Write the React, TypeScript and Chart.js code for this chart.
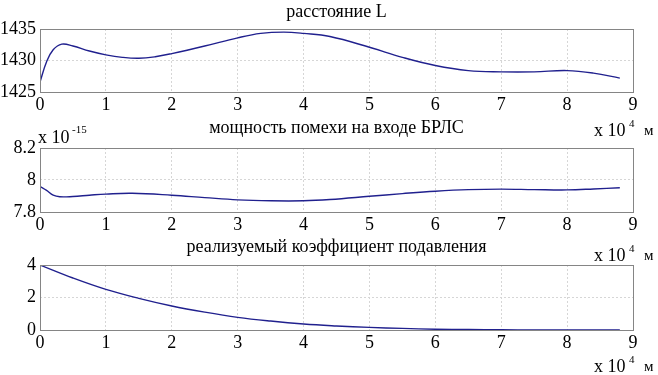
import React, { useEffect, useRef } from "react";
import { Chart, registerables } from "chart.js";

Chart.register(...registerables);

// x values in units of 10^4 m
const xDist = [0, 0.1, 0.2, 0.33, 0.5, 0.75, 1.0, 1.25, 1.5, 1.75, 2.0, 2.5, 3.0, 3.35, 3.7, 4.0, 4.4, 5.0, 5.5, 6.0, 6.5, 7.0, 7.5, 8.0, 8.4, 8.8];
const distL = [1426.6, 1429.8, 1431.7, 1432.6, 1432.3, 1431.5, 1430.9, 1430.5, 1430.35, 1430.6, 1431.1, 1432.3, 1433.6, 1434.3, 1434.5, 1434.3, 1433.8, 1432.1, 1430.5, 1429.2, 1428.4, 1428.2, 1428.2, 1428.4, 1428.0, 1427.2];

const xPow = [0, 0.1, 0.2, 0.3, 0.5, 0.75, 1.0, 1.4, 2.0, 2.5, 3.0, 3.5, 4.0, 4.4, 5.0, 5.5, 6.0, 6.5, 7.0, 7.5, 8.0, 8.4, 8.8];
const powerNoise = [7.96, 7.935, 7.905, 7.895, 7.897, 7.905, 7.912, 7.917, 7.905, 7.89, 7.876, 7.87, 7.87, 7.878, 7.898, 7.915, 7.93, 7.94, 7.943, 7.94, 7.938, 7.944, 7.952];

const xSupp = [0, 0.5, 1.0, 1.5, 2.0, 2.5, 3.0, 3.5, 4.0, 4.5, 5.0, 5.5, 6.0, 6.5, 7.0, 7.5, 8.0, 8.8];
const suppression = [4.0, 3.2, 2.5, 1.95, 1.48, 1.1, 0.78, 0.55, 0.37, 0.25, 0.16, 0.1, 0.05, 0.03, 0.015, 0.008, 0.004, 0.0];

const titles = ["расстояние L", "мощность помехи на входе БРЛС", "реализуемый коэффициент подавления"];
const xUnitLabel = "м";

const W = 658;
const H = 375;
const FONT = "'Liberation Serif', 'Times New Roman', serif";

type PanelCfg = {
  xs: number[];
  ys: number[];
  yMin: number;
  yMax: number;
  yStep: number;
  top: number;
  bottom: number;
  title: string;
  titleBase: number;
  expBase: number;
  yExp?: string;
};

const LEFT = 40;
const RIGHT = 633;

function Panel({ cfg }: { cfg: PanelCfg }) {
  const ref = useRef<HTMLCanvasElement | null>(null);
  useEffect(() => {
    if (!ref.current) return;
    const textPlugin = {
      id: "panelText",
      afterDraw(chart: any) {
        const ctx = chart.ctx as CanvasRenderingContext2D;
        const a = chart.chartArea;
        ctx.save();
        ctx.strokeStyle = "#858585";
        ctx.lineWidth = 1;
        ctx.strokeRect(Math.round(a.left) + 0.5, Math.round(a.top) + 0.5, Math.round(a.right - a.left), Math.round(a.bottom - a.top));
        ctx.fillStyle = "#000";
        ctx.textBaseline = "alphabetic";
        ctx.font = `18px ${FONT}`;
        ctx.textAlign = "center";
        ctx.fillText(cfg.title, (a.left + a.right) / 2, cfg.titleBase);
        // x 10^4 м
        ctx.textAlign = "left";
        ctx.font = `18px ${FONT}`;
        ctx.fillText("x 10", 594, cfg.expBase);
        ctx.font = `11px ${FONT}`;
        ctx.fillText("4", 629, cfg.expBase - 9);
        ctx.font = `15px ${FONT}`;
        ctx.fillText(xUnitLabel, 644, cfg.expBase - 1);
        if (cfg.yExp) {
          ctx.font = `18px ${FONT}`;
          ctx.fillText("x 10", 38, cfg.top - 5);
          ctx.font = `11px ${FONT}`;
          ctx.fillText(cfg.yExp, 72, cfg.top - 15);
        }
        ctx.restore();
      },
    };
    const chart = new Chart(ref.current, {
      type: "line",
      data: {
        datasets: [
          {
            data: cfg.xs.map((x, i) => ({ x, y: cfg.ys[i] })),
            borderColor: "#20208e",
            borderWidth: 1.4,
            pointRadius: 0,
            tension: 0.4,
            fill: false,
          },
        ],
      },
      options: {
        animation: false,
        responsive: false,
        maintainAspectRatio: false,
        events: [],
        layout: {
          padding: { left: 0, right: W - RIGHT, top: cfg.top, bottom: H - cfg.bottom - 20 },
        },
        plugins: { legend: { display: false }, tooltip: { enabled: false }, title: { display: false } },
        scales: {
          x: {
            type: "linear",
            min: 0,
            max: 9,
            ticks: { stepSize: 1, padding: 2, color: "#000", font: { family: FONT, size: 18 } },
            grid: { drawTicks: false, color: "#d6d6d6", lineWidth: 1 },
            border: { display: false, dash: [2, 2] },
            afterFit: (s: any) => { s.height = 20; },
          },
          y: {
            min: cfg.yMin,
            max: cfg.yMax,
            ticks: {
              stepSize: cfg.yStep,
              padding: 4,
              color: "#000",
              font: { family: FONT, size: 18 },
              callback: (v: any) => String(Number(Number(v).toFixed(2))),
            },
            grid: { drawTicks: false, color: "#d6d6d6", lineWidth: 1 },
            border: { display: false, dash: [2, 2] },
            afterFit: (s: any) => { s.width = LEFT; },
          },
        },
      },
      plugins: [textPlugin],
    } as any);
    return () => chart.destroy();
  }, [cfg]);
  return (
    <canvas
      ref={ref}
      width={W}
      height={H}
      style={{ position: "absolute", left: 0, top: 0, width: W, height: H }}
    />
  );
}

const panels: PanelCfg[] = [
  { xs: xDist, ys: distL, yMin: 1425, yMax: 1435, yStep: 5, top: 29, bottom: 92, title: titles[0], titleBase: 17, expBase: 136 },
  { xs: xPow, ys: powerNoise, yMin: 7.8, yMax: 8.2, yStep: 0.2, top: 148, bottom: 212, title: titles[1], titleBase: 133, expBase: 261, yExp: "-15" },
  { xs: xSupp, ys: suppression, yMin: 0, yMax: 4, yStep: 2, top: 265, bottom: 330, title: titles[2], titleBase: 252, expBase: 372 },
];

export default function App() {
  return (
    <div style={{ position: "absolute", left: 0, top: 0, width: W, height: H, background: "#fff", overflow: "hidden" }}>
      {panels.map((p, i) => (
        <Panel key={i} cfg={p} />
      ))}
    </div>
  );
}
